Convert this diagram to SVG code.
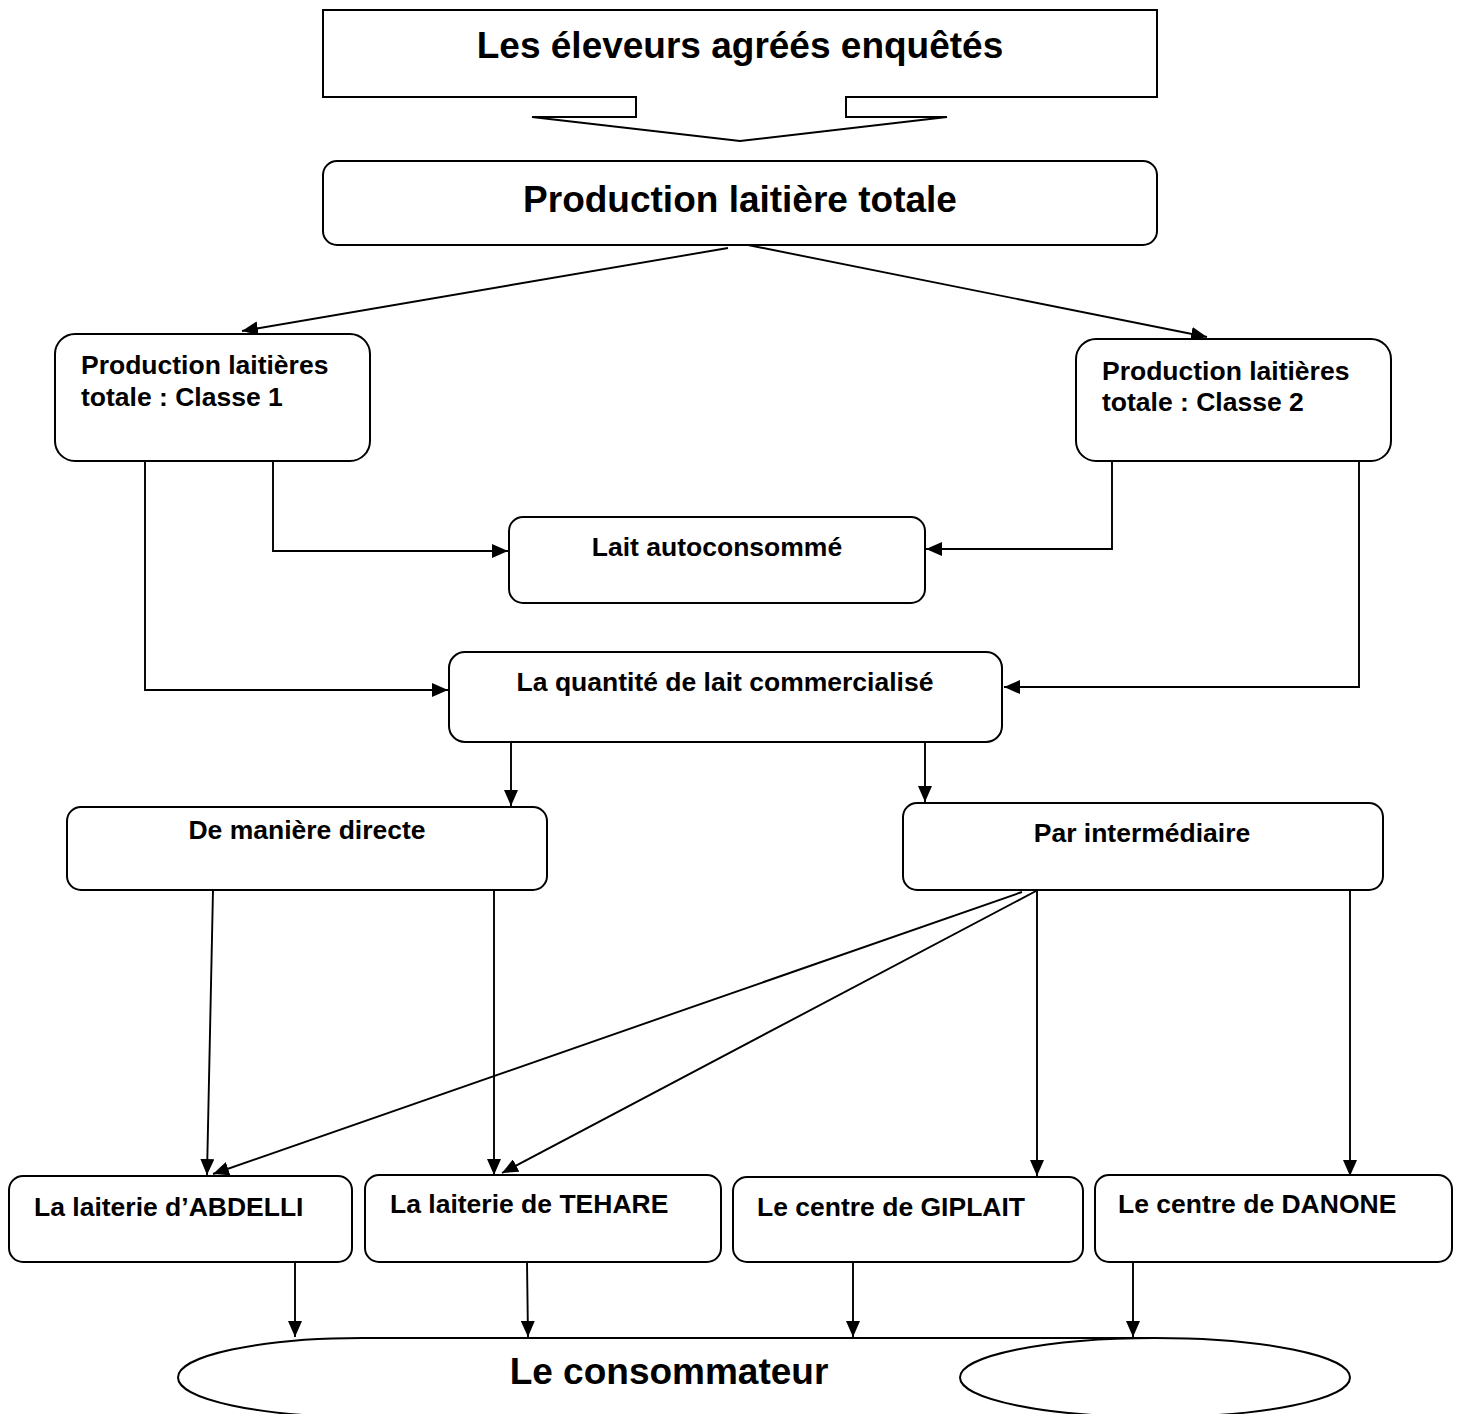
<svg xmlns="http://www.w3.org/2000/svg" width="1464" height="1414" viewBox="0 0 1464 1414">
<defs>
<style>
.box{fill:#fff;stroke:#000;stroke-width:2}
.t{font-family:"Liberation Sans",Arial,sans-serif;font-weight:bold;fill:#000}
.s{font-size:26.5px}
.b{font-size:37px}
.c{fill:none;stroke:#000;stroke-width:1.9}
</style>
<marker id="ah" markerUnits="userSpaceOnUse" markerWidth="16" markerHeight="14" refX="16" refY="7" orient="auto" viewBox="0 0 16 14">
<path d="M0,0 L16,7 L0,14 z" fill="#000"/>
</marker>
</defs>
<rect width="1464" height="1414" fill="#fff"/>

<g id="connectors">
<path class="c" d="M728,248 L242,331" marker-end="url(#ah)"/>
<path class="c" d="M733,242 L1207,337" marker-end="url(#ah)"/>
<path class="c" d="M273,461 V551 H508" marker-end="url(#ah)"/>
<path class="c" d="M145,461 V690 H448" marker-end="url(#ah)"/>
<path class="c" d="M1112,461 V549 H926" marker-end="url(#ah)"/>
<path class="c" d="M1359,461 V687 H1004" marker-end="url(#ah)"/>
<path class="c" d="M511,742 V806" marker-end="url(#ah)"/>
<path class="c" d="M925,742 V802" marker-end="url(#ah)"/>
<path class="c" d="M213,890 L207,1175" marker-end="url(#ah)"/>
<path class="c" d="M494,890 L494,1175" marker-end="url(#ah)"/>
<path class="c" d="M1022,892 L213,1174" marker-end="url(#ah)"/>
<path class="c" d="M1036,891 L502,1173" marker-end="url(#ah)"/>
<path class="c" d="M1037,890 V1176" marker-end="url(#ah)"/>
<path class="c" d="M1350,890 V1176" marker-end="url(#ah)"/>
<path class="c" d="M295,1262 V1337" marker-end="url(#ah)"/>
<path class="c" d="M527,1262 L528,1337" marker-end="url(#ah)"/>
<path class="c" d="M853,1262 V1337" marker-end="url(#ah)"/>
<path class="c" d="M1133,1262 V1337" marker-end="url(#ah)"/>
</g>

<g id="eleveurs">
<path class="box" d="M323,10 H1157 V97 H846 V117 H947 L740,141 L532,117 H636 V97 H323 Z"/>
<text class="t b" x="740" y="58" text-anchor="middle">Les éleveurs agréés enquêtés</text>
</g>

<g id="production-totale">
<rect class="box" x="323" y="161" width="834" height="84" rx="14"/>
<text class="t b" x="740" y="212" text-anchor="middle">Production laitière totale</text>
</g>

<g id="classe1">
<rect class="box" x="55" y="334" width="315" height="127" rx="20"/>
<text class="t s" x="81" y="374">Production laitières</text>
<text class="t s" x="81" y="406">totale : Classe 1</text>
</g>

<g id="classe2">
<rect class="box" x="1076" y="339" width="315" height="122" rx="20"/>
<text class="t s" x="1102" y="380">Production laitières</text>
<text class="t s" x="1102" y="411">totale : Classe 2</text>
</g>

<g id="autoconsomme">
<rect class="box" x="509" y="517" width="416" height="86" rx="14"/>
<text class="t s" x="717" y="556" text-anchor="middle">Lait autoconsommé</text>
</g>

<g id="commercialise">
<rect class="box" x="449" y="652" width="553" height="90" rx="16"/>
<text class="t s" x="725" y="691" text-anchor="middle">La quantité de lait commercialisé</text>
</g>

<g id="directe">
<rect class="box" x="67" y="807" width="480" height="83" rx="14"/>
<text class="t s" x="307" y="839" text-anchor="middle">De manière directe</text>
</g>

<g id="intermediaire">
<rect class="box" x="903" y="803" width="480" height="87" rx="14"/>
<text class="t s" x="1142" y="842" text-anchor="middle">Par intermédiaire</text>
</g>

<g id="abdelli">
<rect class="box" x="9" y="1176" width="343" height="86" rx="14"/>
<text class="t s" x="34" y="1216">La laiterie d’ABDELLI</text>
</g>

<g id="tehare">
<rect class="box" x="365" y="1175" width="356" height="87" rx="14"/>
<text class="t s" x="390" y="1213">La laiterie de TEHARE</text>
</g>

<g id="giplait">
<rect class="box" x="733" y="1177" width="350" height="85" rx="14"/>
<text class="t s" x="757" y="1216">Le centre de GIPLAIT</text>
</g>

<g id="danone">
<rect class="box" x="1095" y="1175" width="357" height="87" rx="14"/>
<text class="t s" x="1118" y="1213">Le centre de DANONE</text>
</g>

<g id="consommateur">
<path class="box" d="M1155,1338 H362 A184,39.5 0 0 0 362,1417 H1155 Z"/>
<ellipse class="box" cx="1155" cy="1377.5" rx="195" ry="39.5"/>
<text class="t b" x="669" y="1384" text-anchor="middle">Le consommateur</text>
</g>
</svg>
